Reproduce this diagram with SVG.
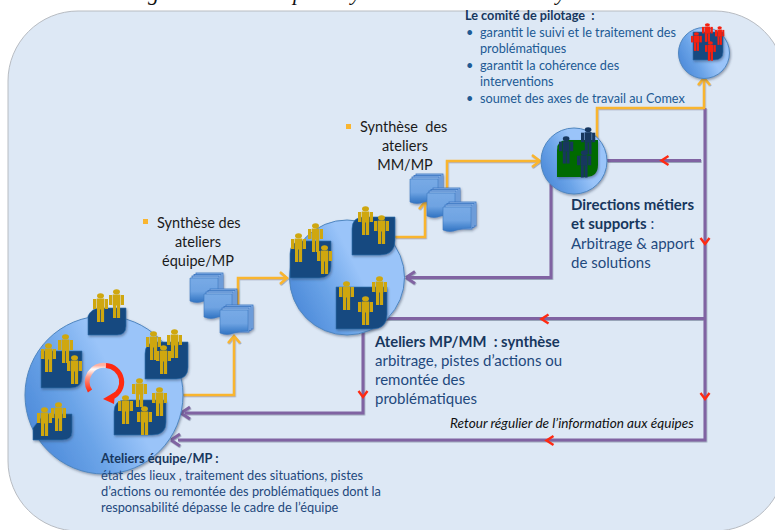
<svg xmlns="http://www.w3.org/2000/svg" xmlns:xlink="http://www.w3.org/1999/xlink" width="775" height="530" viewBox="0 0 775 530">
<style>
text{font-family:"Lato","Open Sans","Liberation Sans",sans-serif}
.hd{font-weight:700;fill:#17375e}
.bd{fill:#1f497d}
.bl{fill:#215a94}
.sy{fill:#1a1a1a;font-size:14.500px}
.or{fill:none;stroke:#f9b52f;stroke-width:2.500}
.pu{fill:none;stroke:#8064a2;stroke-width:3}
.ch{fill:none;stroke:#ff2a12;stroke-width:2.400}
.ball{stroke:#4f86c0;stroke-width:1;fill:url(#ballG)}
.tile{fill:#124a80;stroke:#2f6fae;stroke-width:.6;filter:url(#sh)}
</style>
<defs>
<linearGradient id="ballG" x1="0" y1="0.75" x2="0.8" y2="0.35">
<stop offset="0" stop-color="#4a88d8"/><stop offset=".4" stop-color="#6ba4e8"/><stop offset=".75" stop-color="#9ac4f9"/><stop offset="1" stop-color="#9ac4f9"/>
</linearGradient>
<linearGradient id="docG" x1="0" y1="0" x2="0" y2="1">
<stop offset="0" stop-color="#78aae6"/><stop offset=".55" stop-color="#6ea3e2"/><stop offset="1" stop-color="#2f72c2"/>
</linearGradient>
<linearGradient id="rotG" x1="0" y1="1" x2="0" y2="0">
<stop offset="0" stop-color="#ff2a12"/><stop offset=".55" stop-color="#ff9a88"/><stop offset=".85" stop-color="#ffffff"/><stop offset="1" stop-color="#ffb0a0"/>
</linearGradient>
<filter id="sh" x="-20%" y="-20%" width="150%" height="150%"><feDropShadow dx="1" dy="1.500" stdDeviation="1" flood-color="#33415c" flood-opacity=".45"/></filter>
<filter id="ls" x="-5%" y="-5%" width="110%" height="110%"><feDropShadow dx=".6" dy="1" stdDeviation=".6" flood-color="#33415c" flood-opacity=".4"/></filter>
<g id="person">
<ellipse cx="7.500" cy="2.800" rx="3.500" ry="2.600"/>
<rect x="3.800" y="5.500" width="7.400" height="11"/>
<rect x="0" y="6" width="3.300" height="10"/>
<rect x="11.700" y="6" width="3.300" height="10"/>
<rect x="4" y="16" width="3.200" height="13"/>
<rect x="7.900" y="16" width="3.200" height="13"/>
</g>
<g id="docs1">
<rect x="6" y="0" width="27" height="24" fill="#8fb8ea" stroke="#3a74c0" stroke-width=".8"/>
<rect x="4" y="1.500" width="27" height="24" fill="#8fb8ea" stroke="#3a74c0" stroke-width=".8"/>
<rect x="2" y="3" width="27" height="24" fill="#8fb8ea" stroke="#3a74c0" stroke-width=".8"/>
<path d="M0 5H28V26Q20 26 14 28Q7 31 0 28Z" fill="url(#docG)" stroke="#3e78c0" stroke-width=".6"/>
</g>
<path id="chD" d="M-4.500 -3 L0 3 L4.500 -3"/>
<path id="chL" d="M3.500 -4.500 L-3.500 0 L3.500 4.500"/>
</defs>

<rect id="panel" x="8" y="11" width="777" height="520" rx="70" ry="70" fill="#dde8f5" stroke="#b8bcc2" stroke-width="1"/>
<g id="clipped-title" font-style="italic" font-size="22" fill="#111">
<text x="148" y="0" style="font-family:'Liberation Serif',serif">g</text>
<text x="293" y="0" style="font-family:'Liberation Serif',serif">p</text>
<text x="351" y="0" style="font-family:'Liberation Serif',serif">y</text>
<text x="556" y="0" style="font-family:'Liberation Serif',serif">y</text>
</g>

<g id="connectors">
<g filter="url(#ls)">
<path class="pu" d="M705 108V440H178"/>
<path class="pu" d="M171 440L180 434M171 440L180 446"/>
<path class="pu" d="M705 318.500H385"/>
<path class="pu" d="M607 160.500H701"/>
<path class="pu" d="M551 184V277.500H408"/>
<path class="pu" d="M406 277.500L415 271.500M406 277.500L415 283.500"/>
<path class="pu" d="M363 328V413H185"/>
<path class="pu" d="M181 413L190 407M181 413L190 419"/>
<path class="or" d="M183 395H234V338"/>
<path class="or" d="M228 343L234 336L240 343"/>
<path class="or" d="M238 305V278H286"/>
<path class="or" d="M280 272L287 278L280 284"/>
<path class="or" d="M395 237H425V204"/>
<path class="or" d="M419 209L425 202L431 209"/>
<path class="or" d="M447 188V161H538"/>
<path class="or" d="M532 155L540 161L532 167"/>
<path class="or" d="M597 138V108H704V80"/>
<path class="or" d="M698 85L704 78L710 85"/>
</g>
<use href="#chD" class="ch" x="363" y="394"/>
<use href="#chD" class="ch" x="705" y="396"/>
<use href="#chD" class="ch" x="705" y="241"/>
<use href="#chL" class="ch" x="545" y="319"/>
<use href="#chL" class="ch" x="550" y="440.500"/>
<use href="#chL" class="ch" x="665" y="160.500"/>
</g>

<g id="node-equipe" fill="#cfa70f">
<circle class="ball" cx="104" cy="395" r="79" filter="url(#sh)"/>
<path class="tile" d="M88 335V316Q92 308 100 308H126V326Q126 335 117 335Z"/>
<path class="tile" d="M41 351H82V377Q82 388 70 388H41Z"/>
<path class="tile" d="M157 342H188V367Q188 379 176 379H145V354Q145 342 157 342Z"/>
<path class="tile" d="M114 435V412Q114 400 126 400H166V422Q166 435 152 435Z"/>
<path class="tile" d="M33 440V428L44 414H72V432Q72 440 62 440Z"/>
<use href="#person" x="93" y="293"/><use href="#person" x="109" y="289"/>
<use href="#person" x="41" y="343"/><use href="#person" x="58" y="334"/><use href="#person" x="67" y="355"/>
<use href="#person" x="146" y="331"/><use href="#person" x="167" y="329"/><use href="#person" x="156" y="345"/>
<use href="#person" x="118" y="395"/><use href="#person" x="132" y="378"/><use href="#person" x="152" y="387"/><use href="#person" x="137" y="406"/>
<use href="#person" x="37" y="407"/><use href="#person" x="51" y="402"/>
<path d="M90 391A16.500 16.500 0 0 1 106 365.500" fill="none" stroke="url(#rotG)" stroke-width="5"/>
<path d="M106 365.500A16.500 16.500 0 0 1 112 397" fill="none" stroke="#ff2a12" stroke-width="5"/>
<path d="M103 399L115 392L114 404Z" fill="#ff2a12"/>
</g>

<g id="node-mpmm" fill="#cfa70f">
<circle class="ball" cx="347" cy="277.500" r="57.500" filter="url(#sh)"/>
<path class="tile" d="M303 241H331V266Q331 278 319 278H290V254Q290 241 303 241Z"/>
<path class="tile" d="M364 217H395V240Q395 255 380 255H352V229Q352 217 364 217Z"/>
<path class="tile" d="M336 287H387V314Q387 329 372 329H336Z"/>
<use href="#person" x="291" y="233"/><use href="#person" x="308" y="223"/><use href="#person" x="317" y="245"/>
<use href="#person" x="358" y="206"/><use href="#person" x="374" y="215"/>
<use href="#person" x="339" y="281"/><use href="#person" x="372" y="276"/><use href="#person" x="358" y="296"/>
</g>

<g id="node-directions" fill="#17375e">
<circle class="ball" cx="574" cy="161" r="33" filter="url(#sh)"/>
<path d="M567 140H598V165Q598 177 586 177H557V150Q557 140 567 140Z" fill="#066a06" filter="url(#sh)"/>
<use href="#person" transform="translate(559 136) scale(.95)"/>
<use href="#person" transform="translate(581 127) scale(.95)"/>
<use href="#person" transform="translate(577 150) scale(.95)"/>
</g>

<g id="node-copil" fill="#f5200f">
<circle class="ball" cx="704" cy="53" r="25.500" filter="url(#sh)"/>
<path class="tile" d="M693 32H723V52Q723 60 714 60H693Z"/>
<use href="#person" transform="translate(691 32) scale(.72 .65)"/>
<use href="#person" transform="translate(702 23) scale(.72 .65)"/>
<use href="#person" transform="translate(715 26) scale(.62 .65)"/>
<use href="#person" transform="translate(705 41) scale(.72 .68)"/>
</g>

<g id="docs-equipe" filter="url(#sh)">
<use href="#docs1" x="190" y="273"/><use href="#docs1" x="204" y="289"/><use href="#docs1" x="220" y="305"/>
</g>
<g id="docs-mm" filter="url(#sh)">
<use href="#docs1" x="410" y="174"/><use href="#docs1" x="427" y="188"/><use href="#docs1" x="443" y="202"/>
</g>

<g id="label-copil" font-size="12.700">
<text class="hd" x="465" y="20" xml:space="preserve">Le comité de pilotage  :</text>
<g class="bl">
<text x="466" y="37">•</text><text x="480" y="37">garantit le suivi et le traitement des</text>
<text x="480" y="53">problématiques</text>
<text x="466" y="70">•</text><text x="480" y="70">garantit la cohérence des</text>
<text x="480" y="86">interventions</text>
<text x="466" y="103">•</text><text x="480" y="103">soumet des axes de travail au Comex</text>
</g>
</g>

<g id="label-synth1">
<rect x="143" y="219" width="5" height="5" fill="#f9b52f"/>
<text class="sy" x="157" y="228">Synthèse des</text>
<text class="sy" x="198" y="247" text-anchor="middle">ateliers</text>
<text class="sy" x="198" y="266" text-anchor="middle">équipe/MP</text>
</g>
<g id="label-synth2">
<rect x="346" y="124" width="5" height="5" fill="#f9b52f"/>
<text class="sy" x="360" y="132" xml:space="preserve">Synthèse  des</text>
<text class="sy" x="405" y="151" text-anchor="middle">ateliers</text>
<text class="sy" x="405" y="170" text-anchor="middle">MM/MP</text>
</g>

<g id="label-directions" font-size="15">
<text class="hd" x="571" y="210">Directions métiers</text>
<text class="bd" x="571" y="229"><tspan class="hd">et supports</tspan> :</text>
<text class="bd" x="571" y="249">Arbitrage &amp; apport</text>
<text class="bd" x="571" y="268">de solutions</text>
</g>

<g id="label-mpmm" font-size="15">
<text class="hd" x="375" y="347" font-size="14.800" xml:space="preserve">Ateliers MP/MM  : synthèse</text>
<text class="bd" x="375" y="366">arbitrage, pistes d’actions ou</text>
<text class="bd" x="375" y="385">remontée des</text>
<text class="bd" x="375" y="404">problématiques</text>
</g>

<text id="label-retour" x="450" y="428" font-size="13.600" font-style="italic" fill="#111">Retour régulier de l’information aux équipes</text>

<g id="label-equipe" font-size="12.800">
<text class="hd" x="101" y="463">Ateliers équipe/MP :</text>
<text class="bd" x="101" y="480">état des lieux , traitement des situations, pistes</text>
<text class="bd" x="101" y="496">d’actions ou remontée des problématiques dont la</text>
<text class="bd" x="101" y="512">responsabilité dépasse le cadre de l’équipe</text>
</g>
</svg>
